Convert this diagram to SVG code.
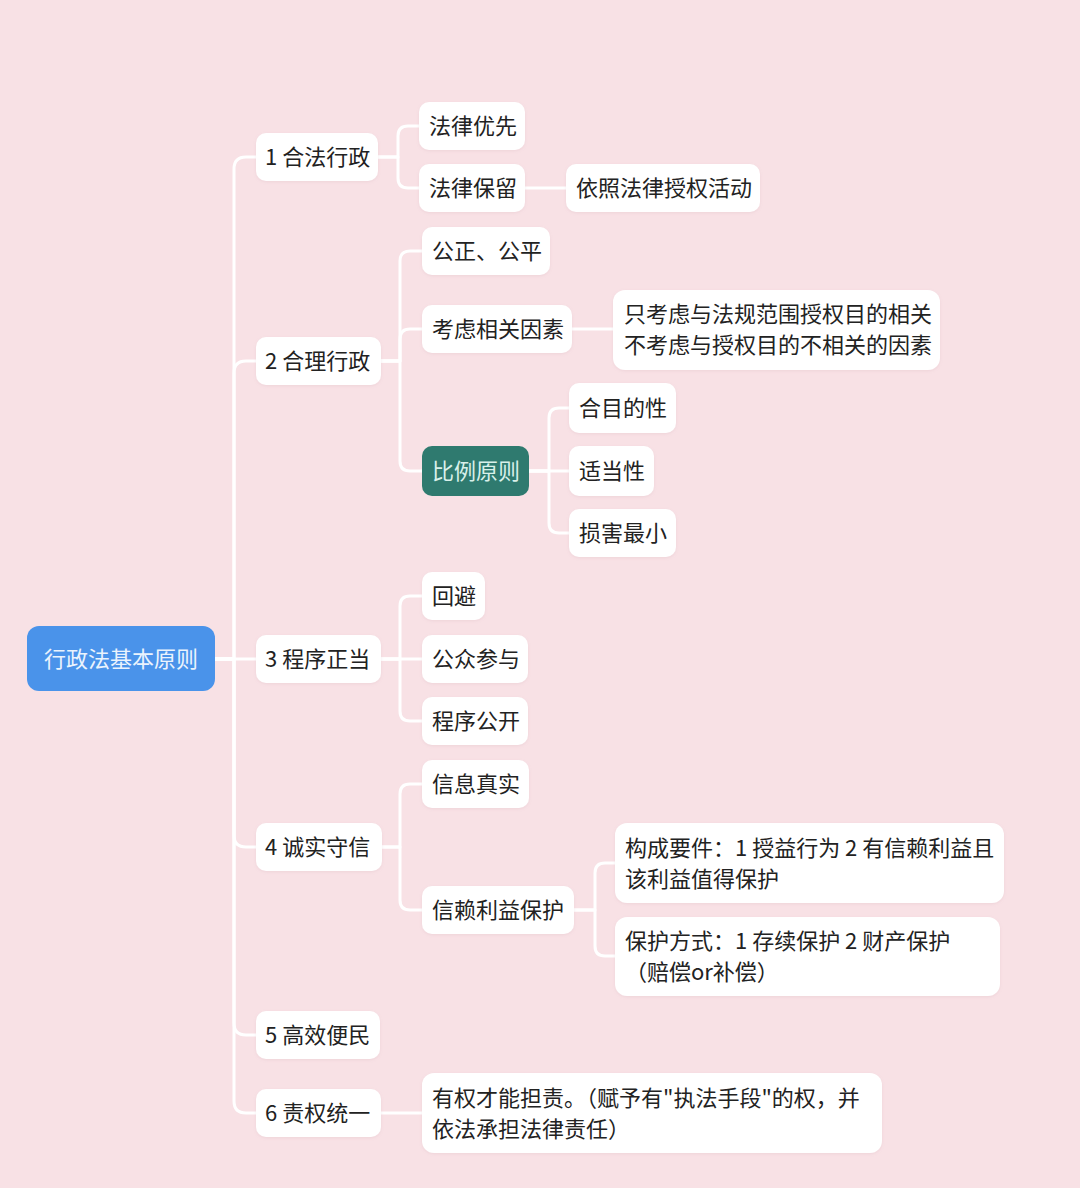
<svg xmlns="http://www.w3.org/2000/svg" width="1080" height="1188" viewBox="0 0 1080 1188">
<defs>
<filter id="sh" x="-10%" y="-20%" width="120%" height="150%">
<feDropShadow dx="0" dy="1" stdDeviation="1.5" flood-color="#b08890" flood-opacity="0.15"/>
</filter>
</defs>
<style>
.bg{fill:#f8e1e5}
.box{fill:#ffffff;filter:url(#sh)}
.root{fill:#4a93ea}
.teal{fill:#2f7a6f}
.t{font-family:"Noto Sans CJK SC","Noto Sans",sans-serif;font-size:22px;fill:#222222;dominant-baseline:central}
.tw{font-family:"Noto Sans CJK SC","Noto Sans",sans-serif;font-size:22px;fill:#eaf3fd;dominant-baseline:central}
.tl{font-family:"Noto Sans CJK SC","Noto Sans",sans-serif;font-size:22px;fill:#d9f0ea;dominant-baseline:central}
.c{fill:none;stroke:#ffffff;stroke-width:3;stroke-linecap:round;stroke-linejoin:round}
</style>
<rect class="bg" x="0" y="0" width="1080" height="1188"/>
<g id="connectors" class="c">
<path d="M215,659 H234 V169 Q234,157 246,157 H256"/>
<path d="M215,659 H234 V373 Q234,361 246,361 H256"/>
<path d="M215,659 H256"/>
<path d="M215,659 H234 V835 Q234,847 246,847 H256"/>
<path d="M215,659 H234 V1023 Q234,1035 246,1035 H256"/>
<path d="M215,659 H234 V1101 Q234,1113 246,1113 H256"/>
<path d="M378,157 H398 V136 Q398,126 408,126 H419"/>
<path d="M378,157 H398 V178 Q398,188 408,188 H419"/>
<path d="M525,188 H566"/>
<path d="M381,361 H400 V261 Q400,251 410,251 H422"/>
<path d="M381,361 H400 V339 Q400,329 410,329 H422"/>
<path d="M381,361 H400 V461 Q400,471 410,471 H422"/>
<path d="M572,329 H613"/>
<path d="M529,471 H549 V418 Q549,408 559,408 H569"/>
<path d="M529,471 H569"/>
<path d="M529,471 H549 V523 Q549,533 559,533 H569"/>
<path d="M381,659 H400 V606 Q400,596 410,596 H422"/>
<path d="M381,659 H422"/>
<path d="M381,659 H400 V711 Q400,721 410,721 H422"/>
<path d="M382,847 H400 V794 Q400,784 410,784 H422"/>
<path d="M382,847 H400 V900 Q400,910 410,910 H422"/>
<path d="M574,910 H595 V873 Q595,863 605,863 H615"/>
<path d="M574,910 H595 V946 Q595,956 605,956 H615"/>
<path d="M381,1113 H422"/>
</g>
<g id="root"><rect class="root" x="27" y="626" width="188" height="65" rx="12"/><text class="tw" x="121" y="657" text-anchor="middle">行政法基本原则</text></g>
<g id="n1"><rect class="box" x="256" y="133" width="122" height="48" rx="10"/><text class="t" x="265" y="155">1 合法行政</text></g>
<g id="n2"><rect class="box" x="256" y="337" width="125" height="48" rx="10"/><text class="t" x="265" y="359">2 合理行政</text></g>
<g id="n3"><rect class="box" x="256" y="635" width="125" height="48" rx="10"/><text class="t" x="265" y="657">3 程序正当</text></g>
<g id="n4"><rect class="box" x="256" y="823" width="126" height="48" rx="10"/><text class="t" x="265" y="845">4 诚实守信</text></g>
<g id="n5"><rect class="box" x="256" y="1011" width="124" height="48" rx="10"/><text class="t" x="265" y="1033">5 高效便民</text></g>
<g id="n6"><rect class="box" x="256" y="1089" width="125" height="48" rx="10"/><text class="t" x="265" y="1111">6 责权统一</text></g>
<g id="a1"><rect class="box" x="419" y="102" width="106" height="48" rx="10"/><text class="t" x="429" y="124">法律优先</text></g>
<g id="a2"><rect class="box" x="419" y="164" width="106" height="48" rx="10"/><text class="t" x="429" y="186">法律保留</text></g>
<g id="a3"><rect class="box" x="566" y="164" width="194" height="48" rx="10"/><text class="t" x="576" y="186">依照法律授权活动</text></g>
<g id="b1"><rect class="box" x="422" y="227" width="128" height="48" rx="10"/><text class="t" x="432" y="249">公正、公平</text></g>
<g id="b2"><rect class="box" x="422" y="305" width="150" height="48" rx="10"/><text class="t" x="432" y="327">考虑相关因素</text></g>
<g id="b3"><rect class="box" x="613" y="290" width="327" height="80" rx="12"/><text class="t" x="624" y="312">只考虑与法规范围授权目的相关</text><text class="t" x="624" y="343">不考虑与授权目的不相关的因素</text></g>
<g id="b4"><rect class="teal" x="422" y="446" width="107" height="50" rx="10"/><text class="tl" x="432" y="469">比例原则</text></g>
<g id="c1"><rect class="box" x="569" y="383" width="107" height="50" rx="10"/><text class="t" x="579" y="406">合目的性</text></g>
<g id="c2"><rect class="box" x="569" y="446" width="85" height="50" rx="10"/><text class="t" x="579" y="469">适当性</text></g>
<g id="c3"><rect class="box" x="569" y="509" width="107" height="48" rx="10"/><text class="t" x="579" y="531">损害最小</text></g>
<g id="d1"><rect class="box" x="422" y="572" width="63" height="48" rx="10"/><text class="t" x="432" y="594">回避</text></g>
<g id="d2"><rect class="box" x="422" y="635" width="106" height="48" rx="10"/><text class="t" x="432" y="657">公众参与</text></g>
<g id="d3"><rect class="box" x="422" y="697" width="106" height="48" rx="10"/><text class="t" x="432" y="719">程序公开</text></g>
<g id="e1"><rect class="box" x="422" y="760" width="107" height="48" rx="10"/><text class="t" x="432" y="782">信息真实</text></g>
<g id="e2"><rect class="box" x="422" y="886" width="152" height="48" rx="10"/><text class="t" x="432" y="908">信赖利益保护</text></g>
<g id="e3"><rect class="box" x="615" y="823" width="389" height="80" rx="12"/><text class="t" x="625" y="846">构成要件：1 授益行为 2 有信赖利益且</text><text class="t" x="625" y="877">该利益值得保护</text></g>
<g id="e4"><rect class="box" x="615" y="917" width="385" height="79" rx="12"/><text class="t" x="625" y="939">保护方式：1 存续保护 2 财产保护</text><text class="t" x="625" y="970">（赔偿or补偿）</text></g>
<g id="f1"><rect class="box" x="422" y="1073" width="460" height="80" rx="12"/><text class="t" x="432" y="1096">有权才能担责。（赋予有&quot;执法手段&quot;的权，并</text><text class="t" x="432" y="1127">依法承担法律责任）</text></g>
</svg>
